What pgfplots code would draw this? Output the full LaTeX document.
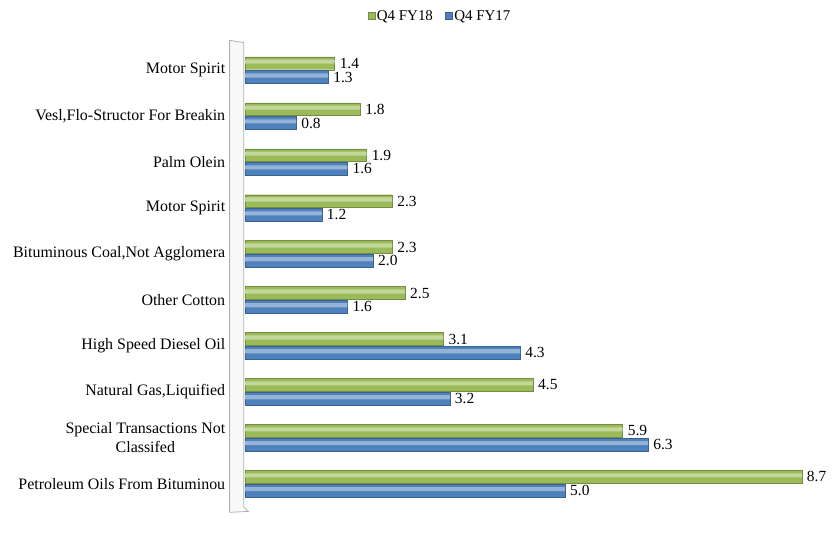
\documentclass[border=0pt]{standalone}
\usepackage{pgfplots}
\pgfplotsset{compat=1.18}
\usepackage{fontspec}
\setmainfont{Liberation Serif}
\definecolor{gbar}{RGB}{155,187,89}
\definecolor{bbar}{RGB}{79,129,189}
\begin{document}
\begin{tikzpicture}
\begin{axis}[
  scale only axis, width=576bp, height=478bp,
  xmin=0, xmax=9, ymin=-0.7, ymax=9.7,
  axis x line=none,
  axis y line*=left, y axis line style={draw=none},
  ytick={0,...,9},
  yticklabels={Petroleum Oils From Bituminou,{Special Transactions Not\\Classifed},{Natural Gas,Liquified},High Speed Diesel Oil,Other Cotton,{Bituminous Coal,Not Agglomera},Motor Spirit,Palm Olein,{Vesl,Flo-Structor For Breakin},Motor Spirit},
  ytick style={draw=none},
  yticklabel style={align=center, font=\fontsize{16}{19}\selectfont, xshift=-12bp},
  /pgf/number format/assume math mode=true,
  xbar, bar width=0.28,
  point meta=x,
  nodes near coords={\pgfmathprintnumber[fixed,fixed zerofill,precision=1,assume math mode=true]{\pgfplotspointmeta}},
  nodes near coords style={font=\fontsize{15.5}{18}\selectfont, anchor=west, text=black, inner sep=5bp},
  legend columns=2,
  legend style={draw=none, at={(0.3385,1.046)}, anchor=center, font=\fontsize{15}{18}\selectfont, /tikz/every even column/.append style={column sep=10bp}},
  legend image code/.code={\fill[#1] (0bp,-3.5bp) rectangle (7bp,3.5bp);},
  clip=false,
]
\path (rel axis cs:-0.4253,-0.0669) rectangle (rel axis cs:1.0226,1.0795);
\path[draw=gray!60, fill=gray!5, line width=0.8pt] (axis cs:-0.24,-0.62) -- (axis cs:-0.24,9.65) -- (axis cs:-0.02,9.6) -- (axis cs:-0.02,-0.5) -- (axis cs:0.05,-0.6) -- cycle;
\addplot[draw=gbar!75!black, fill=gbar, bar shift=0.15]
  coordinates {(8.7,0) (5.9,1) (4.5,2) (3.1,3) (2.5,4) (2.3,5) (2.3,6) (1.9,7) (1.8,8) (1.4,9)};
\addplot[draw=bbar!75!black, fill=bbar, bar shift=-0.15]
  coordinates {(5.0,0) (6.3,1) (3.2,2) (4.3,3) (1.6,4) (2.0,5) (1.2,6) (1.6,7) (0.8,8) (1.3,9)};
\addplot[forget plot, draw=none, fill=gbar!60!white, bar shift=0.185, bar width=0.09, nodes near coords={}]
  coordinates {(8.7,0) (5.9,1) (4.5,2) (3.1,3) (2.5,4) (2.3,5) (2.3,6) (1.9,7) (1.8,8) (1.4,9)};
\addplot[forget plot, draw=none, fill=bbar!60!white, bar shift=-0.115, bar width=0.09, nodes near coords={}]
  coordinates {(5.0,0) (6.3,1) (3.2,2) (4.3,3) (1.6,4) (2.0,5) (1.2,6) (1.6,7) (0.8,8) (1.3,9)};
\legend{Q4 FY18, Q4 FY17}
\end{axis}
\end{tikzpicture}
\end{document}
